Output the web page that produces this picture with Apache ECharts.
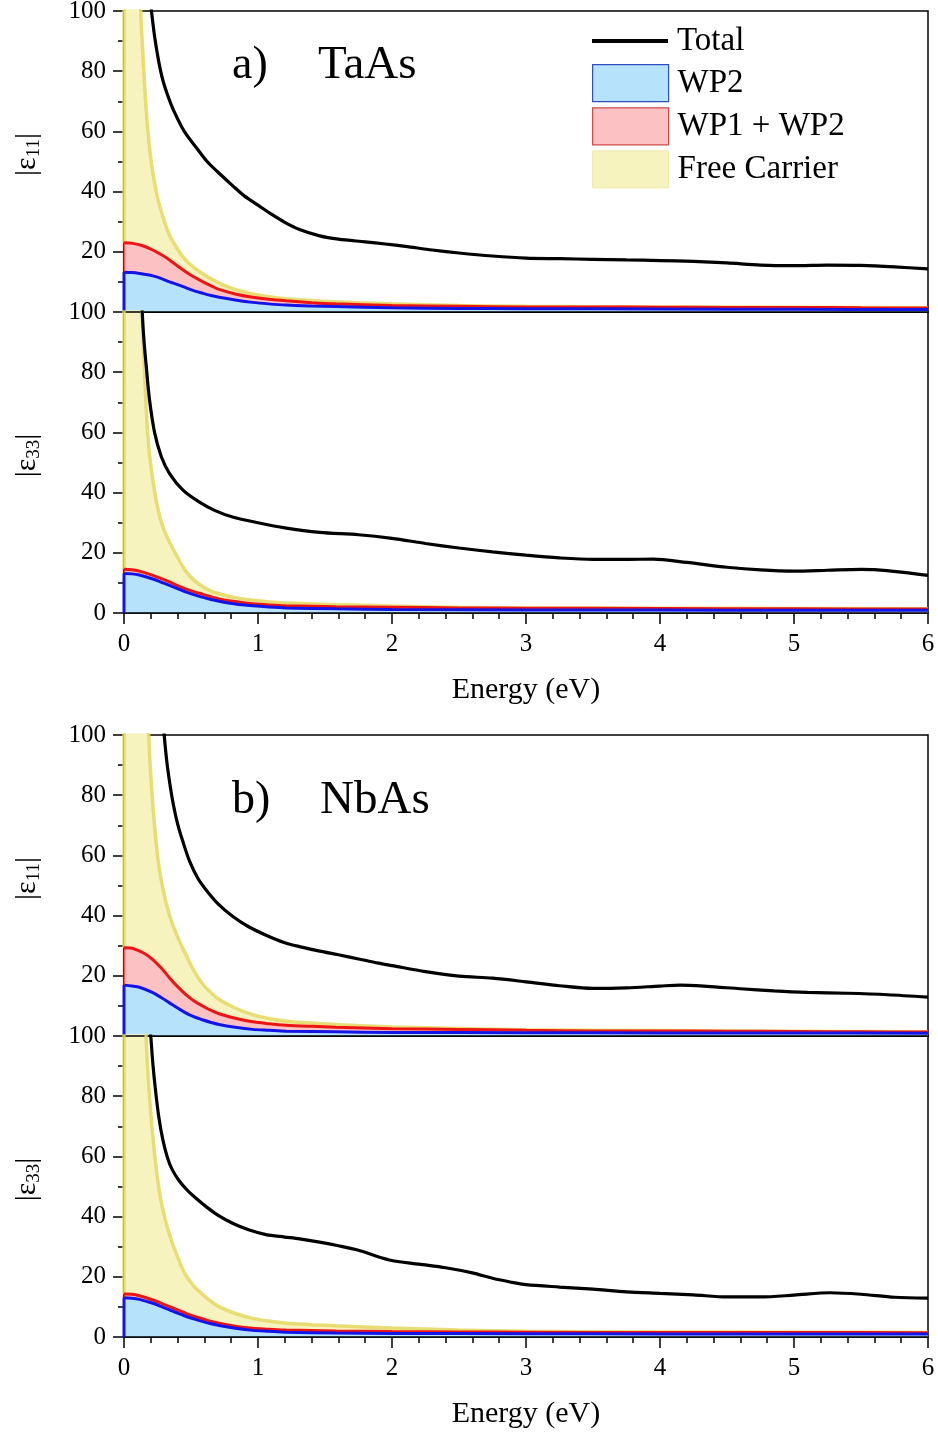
<!DOCTYPE html>
<html>
<head>
<meta charset="utf-8">
<script src="https://cdn.jsdelivr.net/npm/echarts@6/dist/echarts.min.js"></script>
<style>
html,body{margin:0;padding:0;background:#fff;}
#chart{width:938px;height:1437px;}
</style>
</head>
<body>
<div id="chart"></div>
<script>
// ---------- DATA (energy eV, value) ----------
// a) TaAs |eps11|
const taas11Total = [[0.19,106],[0.205,100],[0.23,91],[0.26,83],[0.29,77],[0.33,71.5],[0.37,67],[0.45,60],[0.55,54],[0.62,50],[0.7,46.5],[0.81,42],[0.9,38.5],[1.0,35.5],[1.1,32.5],[1.2,29.8],[1.31,27.4],[1.46,25.3],[1.6,24.2],[1.8,23.3],[1.95,22.6],[2.1,21.8],[2.3,20.6],[2.5,19.6],[2.75,18.6],[3.0,17.9],[3.25,17.7],[3.5,17.5],[3.75,17.3],[4.0,17.1],[4.25,16.8],[4.5,16.3],[4.75,15.6],[5.0,15.4],[5.25,15.6],[5.5,15.5],[5.75,15.0],[6.0,14.3]];
const taas11WP12 = [[0,23],[0.066,22.8],[0.14,22],[0.215,20.6],[0.28,19],[0.34,17.3],[0.4,15.3],[0.46,13.4],[0.52,11.7],[0.59,10],[0.65,8.7],[0.71,7.5],[0.83,6],[0.96,4.9],[1.08,4.2],[1.21,3.7],[1.4,3.1],[1.58,2.7],[2.0,2.2],[2.5,1.9],[3,1.7],[3.5,1.7],[4,1.6],[4.5,1.5],[5,1.5],[5.5,1.4],[6,1.3]];
const taas11WP2 = [[0,13.2],[0.06,13.1],[0.115,12.8],[0.215,12],[0.28,11.1],[0.34,10],[0.4,9.1],[0.46,8.1],[0.52,7.1],[0.59,6.2],[0.65,5.5],[0.71,4.9],[0.83,4.0],[0.96,3.2],[1.08,2.7],[1.21,2.3],[1.4,2.0],[1.58,1.8],[2.0,1.4],[2.5,1.2],[3,1.1],[4,1.0],[5,0.9],[6,0.8]];
const taas11Free = [[0,23],[0.012,3000],[0.04,800],[0.07,390],[0.09,196],[0.11,131],[0.125,100],[0.14,86.5],[0.153,76],[0.165,67.5],[0.18,59.5],[0.2,51],[0.22,45],[0.24,40],[0.265,35.5],[0.30,30.3],[0.34,25.5],[0.41,20.2],[0.46,17.3],[0.52,14.8],[0.59,12.6],[0.65,11],[0.71,9.6],[0.83,7.5],[0.96,6],[1.08,5.1],[1.21,4.4],[1.4,3.8],[1.58,3.4],[2.0,2.7],[2.5,2.2],[3,1.9],[4,1.7],[5,1.6],[6,1.4]];

// a) TaAs |eps33|
const taas33Total = [[0.13,110],[0.136,100],[0.15,90],[0.166,82],[0.19,71],[0.228,60],[0.278,52],[0.34,46.3],[0.44,40.8],[0.56,36.9],[0.68,34],[0.81,31.9],[1.0,30],[1.2,28.3],[1.46,26.8],[1.75,26.0],[2.0,24.8],[2.25,23.1],[2.5,21.6],[2.75,20.3],[3.0,19.2],[3.25,18.3],[3.5,17.8],[3.75,17.8],[3.95,17.9],[4.2,16.8],[4.5,15.2],[4.75,14.3],[5.0,13.9],[5.25,14.2],[5.5,14.5],[5.6,14.4],[5.8,13.6],[6.0,12.5]];
const taas33WP12 = [[0,14.5],[0.06,14.4],[0.115,13.9],[0.215,12.5],[0.28,11.4],[0.34,10.3],[0.4,9.1],[0.46,8.0],[0.52,7.1],[0.59,6.2],[0.65,5.4],[0.71,4.7],[0.83,3.8],[0.96,3.1],[1.08,2.7],[1.21,2.4],[1.58,2.1],[2.0,1.9],[2.5,1.7],[3,1.6],[4,1.5],[5,1.4],[6,1.3]];
const taas33WP2 = [[0,13.1],[0.06,13.0],[0.115,12.6],[0.215,11.3],[0.28,10.2],[0.34,9.2],[0.4,8.1],[0.46,7.0],[0.52,6.1],[0.59,5.2],[0.65,4.5],[0.71,3.9],[0.83,3.0],[0.96,2.4],[1.08,2.0],[1.21,1.7],[1.58,1.4],[2,1.2],[3,1.0],[4,1.0],[5,0.9],[6,0.9]];
const taas33Free = [[0,14.5],[0.012,3000],[0.05,700],[0.08,300],[0.1,180],[0.136,100],[0.153,80],[0.176,60],[0.2,49],[0.24,37.5],[0.27,31.5],[0.30,27.5],[0.34,23.5],[0.40,18.5],[0.46,14],[0.52,11],[0.59,8.7],[0.65,7.3],[0.71,6.4],[0.83,5.1],[0.96,4.2],[1.21,3.3],[1.58,2.8],[2,2.3],[2.5,1.9],[3,1.7],[4,1.6],[5,1.5],[6,1.4]];

// b) NbAs |eps11|
const nbas11Total = [[0.29,106],[0.30,100],[0.32,91],[0.345,83],[0.37,76.5],[0.40,70.5],[0.44,64.5],[0.49,58],[0.55,52.5],[0.61,48.7],[0.7,44],[0.81,39.8],[0.93,36.3],[1.06,33.5],[1.2,31],[1.31,29.7],[1.46,28.2],[1.6,27],[1.75,25.6],[1.9,24.2],[2.0,23.4],[2.25,21.4],[2.5,19.9],[2.75,19.2],[3.0,18.0],[3.25,16.7],[3.5,15.8],[3.75,16.0],[4.0,16.6],[4.15,16.9],[4.35,16.5],[4.6,15.7],[4.85,15.0],[5.1,14.5],[5.4,14.2],[5.7,13.7],[6.0,12.9]];
const nbas11WP12 = [[0,29.3],[0.05,29.2],[0.09,28.7],[0.15,27.5],[0.215,25.4],[0.28,22.5],[0.34,19.3],[0.4,16.4],[0.46,13.8],[0.52,11.7],[0.59,9.9],[0.65,8.5],[0.71,7.4],[0.83,5.9],[0.96,4.7],[1.08,4.1],[1.21,3.6],[1.4,3.2],[1.58,2.9],[2,2.4],[2.5,2.2],[3,1.9],[3.5,1.7],[4,1.7],[4.5,1.6],[5,1.5],[5.5,1.4],[6,1.3]];
const nbas11WP2 = [[0,16.9],[0.06,16.6],[0.115,16.2],[0.215,14.4],[0.28,12.7],[0.34,11],[0.4,9.3],[0.46,7.7],[0.52,6.4],[0.59,5.3],[0.65,4.5],[0.71,3.8],[0.83,2.9],[0.96,2.2],[1.08,1.9],[1.21,1.6],[1.58,1.4],[2,1.2],[3,1.1],[4,1.0],[5,1.0],[6,0.9]];
const nbas11Free = [[0,29.3],[0.012,3000],[0.06,800],[0.1,350],[0.14,180],[0.185,100],[0.21,80],[0.25,60],[0.29,49],[0.34,40],[0.39,34],[0.43,30],[0.46,27.2],[0.52,21.8],[0.59,17.1],[0.65,14.4],[0.71,12.1],[0.83,9.3],[0.96,7.1],[1.08,5.8],[1.21,4.9],[1.4,4.3],[1.58,3.8],[2,3.0],[2.5,2.5],[3,2.1],[4,1.8],[5,1.6],[6,1.4]];

// b) NbAs |eps33|
const nbas33Total = [[0.19,106],[0.20,100],[0.215,91],[0.235,82],[0.26,73],[0.29,65.5],[0.325,59.5],[0.36,55.6],[0.41,52],[0.47,48.9],[0.54,46],[0.61,43.4],[0.7,40.5],[0.81,37.8],[0.93,35.6],[1.06,34],[1.2,33.2],[1.31,32.6],[1.46,31.5],[1.6,30.3],[1.75,28.8],[1.98,25.6],[2.2,24.2],[2.4,23],[2.6,21.3],[2.75,19.5],[2.89,18.2],[3.0,17.4],[3.25,16.6],[3.5,15.9],[3.75,15.0],[4.0,14.5],[4.25,14.0],[4.5,13.3],[4.75,13.3],[5.0,13.9],[5.27,14.7],[5.5,14.2],[5.75,13.2],[6.0,12.9]];
const nbas33WP12 = [[0,14.3],[0.06,14.2],[0.115,13.7],[0.215,12.3],[0.28,11.2],[0.34,10.1],[0.4,9.0],[0.46,7.9],[0.52,6.9],[0.59,6.0],[0.65,5.2],[0.71,4.6],[0.83,3.6],[0.96,2.9],[1.08,2.6],[1.21,2.3],[1.58,2.0],[2,1.8],[2.5,1.7],[3,1.6],[4,1.5],[5,1.5],[6,1.4]];
const nbas33WP2 = [[0,13.0],[0.06,12.9],[0.115,12.5],[0.215,11.2],[0.28,10.1],[0.34,9.0],[0.4,7.9],[0.46,6.9],[0.52,6.0],[0.59,5.1],[0.65,4.4],[0.71,3.8],[0.83,2.9],[0.96,2.2],[1.08,1.9],[1.21,1.6],[1.58,1.3],[2,1.2],[3,1.1],[4,1.0],[5,1.0],[6,1.0]];
const nbas33Free = [[0,14.3],[0.012,3000],[0.05,700],[0.09,300],[0.12,180],[0.165,100],[0.19,80],[0.23,60],[0.265,48],[0.30,40.5],[0.33,35.5],[0.36,31.3],[0.41,25.5],[0.46,20.6],[0.52,17],[0.59,14],[0.65,11.8],[0.71,10.1],[0.83,7.8],[0.96,6.2],[1.08,5.3],[1.21,4.6],[1.4,4.1],[1.58,3.7],[2,3.0],[2.5,2.3],[3,1.9],[4,1.7],[5,1.6],[6,1.5]];

const xTicks = [0,1,2,3,4,5,6];
const yTicks = [0,20,40,60,80,100];
const seriesNames = ['Total','WP2','WP1 + WP2','Free Carrier'];
const panelTitles = [['a)','TaAs'],['b)','NbAs']];
const yNames = ['|ε{s|11}|','|ε{s|33}|','|ε{s|11}|','|ε{s|33}|'];

const panels = [
  {total:taas11Total, wp12:taas11WP12, wp2:taas11WP2, free:taas11Free},
  {total:taas33Total, wp12:taas33WP12, wp2:taas33WP2, free:taas33Free},
  {total:nbas11Total, wp12:nbas11WP12, wp2:nbas11WP2, free:nbas11Free},
  {total:nbas33Total, wp12:nbas33WP12, wp2:nbas33WP2, free:nbas33Free}
];

// ---------- STYLE ----------
const FONT = '"Liberation Serif", "Times New Roman", serif';
const C = {
  black:'#000000',
  blueLine:'#1414e6', blueFill:'#b6e3fb',
  redLine:'#ee1414', redFill:'#fcc2c3',
  yelLine:'rgba(228,216,96,0.85)', yelFill:'#f6f3bf'
};
const gridTops = [11, 312, 735, 1036];
const GH = 301;

const chart = echarts.init(document.getElementById('chart'), null, {renderer:'canvas'});

const grid = gridTops.map(t => ({
  left:124, width:804, top:t, height:GH,
  show:true, borderColor:'#000', borderWidth:1.5, backgroundColor:'transparent',
  containLabel:false, outerBoundsMode:'none'
}));

const xAxis = gridTops.map((t,i) => {
  const labeled = (i % 2 === 1);
  return {
    gridIndex:i, type:'value', min:xTicks[0], max:xTicks[xTicks.length-1], interval:1, z:3,
    axisLine:{show:true, onZero:false, lineStyle:{color:'#000', width:1.5}},
    axisTick:{show:labeled, inside:false, length:11, lineStyle:{color:'#000', width:1.5}},
    minorTick:{show:labeled, splitNumber:5, length:6, lineStyle:{color:'#000', width:1.5}},
    splitLine:{show:false},
    axisLabel:{show:labeled, fontSize:25, fontFamily:FONT, color:'#000', margin:19},
    name: labeled ? 'Energy (eV)' : '',
    nameLocation:'middle', nameGap:62,
    nameTextStyle:{fontSize:30, fontFamily:FONT, color:'#000'}
  };
});

const yAxis = gridTops.map((t,i) => ({
  gridIndex:i, type:'value', min:yTicks[0], max:yTicks[yTicks.length-1], interval:20,
  axisLine:{show:true, onZero:false, lineStyle:{color:'#000', width:1.5}},
  axisTick:{show:true, inside:false, length:11, lineStyle:{color:'#000', width:1.5}},
  minorTick:{show:true, splitNumber:2, length:6, lineStyle:{color:'#000', width:1.5}},
  splitLine:{show:false},
  axisLabel:{fontSize:25, fontFamily:FONT, color:'#000', margin:18, showMinLabel:(i % 2 === 1), showMaxLabel:true},
  name: yNames[i], nameLocation:'middle', nameRotate:90, nameGap:80,
  nameTextStyle:{fontSize:30, fontFamily:FONT, color:'#000', lineHeight:34, padding:[0,0,0,14],
    rich:{s:{fontSize:19, fontFamily:FONT, color:'#000', verticalAlign:'bottom', lineHeight:34}}}
}));

const series = [];
panels.forEach((p,i) => {
  const common = {type:'line', xAxisIndex:i, yAxisIndex:i, showSymbol:false, symbol:'none',
    smooth:0.3, clip:true, animation:false, silent:true};
  series.push(Object.assign({}, common, {name:'Free Carrier', data:p.free,
    itemStyle:{color:C.yelFill}, lineStyle:{color:C.yelLine, width:3.5}, areaStyle:{color:C.yelFill, opacity:1}}));
  series.push(Object.assign({}, common, {name:'WP1 + WP2', data:p.wp12,
    itemStyle:{color:C.redFill}, lineStyle:{color:C.redLine, width:3}, areaStyle:{color:C.redFill, opacity:1}}));
  series.push(Object.assign({}, common, {name:'WP2', data:p.wp2,
    itemStyle:{color:C.blueFill}, lineStyle:{color:C.blueLine, width:3}, areaStyle:{color:C.blueFill, opacity:1}}));
  // left (E = 0) edges of the filled areas
  series.push(Object.assign({}, common, {name:'edge-red', smooth:false, data:[p.wp2[0], p.wp12[0]],
    itemStyle:{color:C.redLine}, lineStyle:{color:'rgba(238,20,20,0.6)', width:2.5}}));
  series.push(Object.assign({}, common, {name:'edge-blue', smooth:false, data:[[0,0], p.wp2[0]],
    itemStyle:{color:C.blueLine}, lineStyle:{color:C.blueLine, width:3}}));
  series.push(Object.assign({}, common, {name:'Total', data:p.total,
    itemStyle:{color:C.black}, lineStyle:{color:C.black, width:3.2}}));
});

const legendText = {fontSize:33, fontFamily:FONT, color:'#000', lineHeight:34, padding:[0,0,0,4]};
const legend = [
  {show:true, left:592, top:24, padding:0, orient:'vertical', itemWidth:76, itemHeight:4, selectedMode:false,
   data:[{name:seriesNames[0], icon:'rect', itemStyle:{color:'#000', borderWidth:0}}],
   textStyle:legendText},
  {show:true, left:592, top:64, padding:0, orient:'vertical', itemWidth:76, itemHeight:37, itemGap:5, selectedMode:false,
   data:[
     {name:seriesNames[1], icon:'rect', itemStyle:{color:C.blueFill, borderColor:'#2f4fc0', borderWidth:1.2}},
     {name:seriesNames[2], icon:'rect', itemStyle:{color:C.redFill, borderColor:'#d04a4a', borderWidth:1.2}},
     {name:seriesNames[3], icon:'rect', itemStyle:{color:C.yelFill, borderColor:'#efe9a6', borderWidth:1}}
   ],
   textStyle:legendText}
];

const graphic = [];
[[0,66,318],[1,801,320]].forEach(([k,y,x2]) => {
  graphic.push({type:'text', x:232, y:y, silent:true, style:{text:panelTitles[k][0], fontSize:46, fontFamily:FONT, fill:'#000', align:'left', verticalAlign:'middle'}});
  graphic.push({type:'text', x:x2, y:y, silent:true, style:{text:panelTitles[k][1], fontSize:47, fontFamily:FONT, fill:'#000', align:'left', verticalAlign:'middle'}});
});

chart.setOption({
  backgroundColor:'#ffffff',
  animation:false,
  grid, xAxis, yAxis, series, legend, graphic
});
</script>
</body>
</html>
